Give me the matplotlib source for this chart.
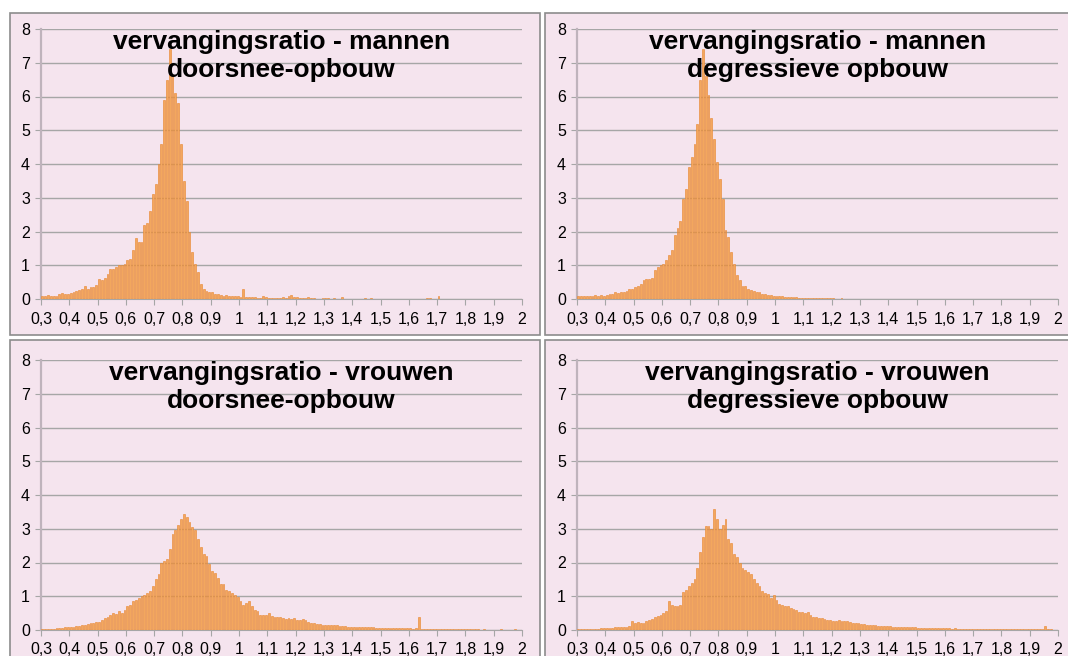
import numpy as np
import matplotlib
matplotlib.use("Agg")
import matplotlib.pyplot as plt
from matplotlib.patches import Rectangle

# bins of 0.01 from 0.30 up to 2.00 (left edges)
bin_left = np.round(np.arange(0.30, 2.00, 0.01), 2)

# frequency (%) per bin
mannen_doorsnee = [
    0.08, 0.10, 0.12, 0.10, 0.10, 0.10, 0.15, 0.18, 0.15, 0.15,
    0.18, 0.20, 0.25, 0.28, 0.30, 0.40, 0.30, 0.35, 0.35, 0.42,
    0.58, 0.55, 0.62, 0.75, 0.90, 0.88, 0.95, 1.00, 1.02, 1.05,
    1.15, 1.20, 1.45, 1.80, 1.70, 1.70, 2.20, 2.25, 2.60, 3.10,
    3.40, 4.00, 4.60, 5.90, 6.50, 7.40, 6.60, 6.10, 5.80, 4.60,
    3.50, 2.90, 2.00, 1.40, 1.05, 0.80, 0.45, 0.30, 0.25, 0.20,
    0.20, 0.15, 0.15, 0.12, 0.10, 0.12, 0.10, 0.08, 0.10, 0.08,
    0.05, 0.30, 0.05, 0.06, 0.05, 0.05, 0.04, 0.04, 0.10, 0.05,
    0.03, 0.04, 0.03, 0.04, 0.03, 0.05, 0.03, 0.08, 0.12, 0.06,
    0.05, 0.02, 0.02, 0.03, 0.05, 0.03, 0.02, 0.01, 0.01, 0.02,
    0.03, 0.04, 0.01, 0.02, 0.01, 0.01, 0.05, 0.01, 0.00, 0.01,
    0.01, 0.01, 0.00, 0.01, 0.02, 0.00, 0.02, 0.01, 0.00, 0.01,
    0.00, 0.01, 0.00, 0.00, 0.00, 0.00, 0.00, 0.01, 0.00, 0.00,
    0.01, 0.00, 0.00, 0.00, 0.00, 0.00, 0.02, 0.02, 0.00, 0.00,
    0.10, 0.00, 0.00, 0.00, 0.00, 0.00, 0.00, 0.00, 0.00, 0.00,
    0.00, 0.00, 0.00, 0.00, 0.00, 0.00, 0.00, 0.00, 0.00, 0.00,
    0.00, 0.00, 0.00, 0.00, 0.00, 0.00, 0.00, 0.00, 0.00, 0.00,
]
mannen_degressief = [
    0.08, 0.08, 0.10, 0.10, 0.08, 0.10, 0.12, 0.10, 0.12, 0.10,
    0.12, 0.15, 0.15, 0.20, 0.18, 0.20, 0.22, 0.25, 0.30, 0.30,
    0.35, 0.40, 0.45, 0.55, 0.58, 0.60, 0.62, 0.85, 0.95, 1.00,
    1.05, 1.15, 1.30, 1.45, 1.90, 2.10, 2.30, 2.95, 3.25, 3.90,
    4.20, 4.60, 5.20, 6.50, 7.40, 6.60, 6.05, 5.35, 4.75, 4.05,
    3.55, 2.95, 2.05, 1.85, 1.40, 1.05, 0.70, 0.55, 0.40, 0.38,
    0.30, 0.28, 0.25, 0.20, 0.20, 0.15, 0.15, 0.12, 0.12, 0.10,
    0.10, 0.08, 0.08, 0.07, 0.06, 0.06, 0.05, 0.05, 0.04, 0.04,
    0.04, 0.03, 0.03, 0.03, 0.03, 0.02, 0.02, 0.02, 0.02, 0.02,
    0.02, 0.01, 0.01, 0.02, 0.01, 0.01, 0.01, 0.01, 0.01, 0.01,
    0.01, 0.01, 0.00, 0.01, 0.00, 0.01, 0.00, 0.00, 0.00, 0.00,
    0.00, 0.00, 0.00, 0.00, 0.00, 0.00, 0.00, 0.00, 0.00, 0.00,
    0.00, 0.00, 0.00, 0.00, 0.00, 0.00, 0.00, 0.00, 0.00, 0.00,
    0.00, 0.00, 0.00, 0.00, 0.00, 0.00, 0.00, 0.00, 0.00, 0.00,
    0.00, 0.00, 0.00, 0.00, 0.00, 0.00, 0.00, 0.00, 0.00, 0.00,
    0.00, 0.00, 0.00, 0.00, 0.00, 0.00, 0.00, 0.00, 0.00, 0.00,
    0.00, 0.00, 0.00, 0.00, 0.00, 0.00, 0.00, 0.00, 0.00, 0.00,
]
vrouwen_doorsnee = [
    0.02, 0.02, 0.03, 0.03, 0.04, 0.05, 0.05, 0.06, 0.08, 0.08,
    0.10, 0.10, 0.12, 0.13, 0.15, 0.16, 0.18, 0.20, 0.22, 0.25,
    0.25, 0.30, 0.35, 0.38, 0.45, 0.50, 0.48, 0.55, 0.50, 0.60,
    0.70, 0.75, 0.85, 0.88, 0.95, 1.00, 1.05, 1.10, 1.15, 1.30,
    1.50, 1.65, 2.00, 2.05, 2.10, 2.40, 2.85, 2.95, 3.10, 3.30,
    3.45, 3.35, 3.20, 3.05, 2.95, 2.70, 2.45, 2.25, 2.20, 1.95,
    1.75, 1.70, 1.55, 1.35, 1.35, 1.20, 1.15, 1.10, 1.05, 0.98,
    0.85, 0.75, 0.80, 0.85, 0.70, 0.60, 0.55, 0.45, 0.45, 0.45,
    0.50, 0.42, 0.40, 0.40, 0.38, 0.35, 0.32, 0.35, 0.33, 0.35,
    0.30, 0.30, 0.32, 0.30, 0.25, 0.22, 0.20, 0.17, 0.18, 0.16,
    0.15, 0.15, 0.15, 0.14, 0.14, 0.13, 0.13, 0.12, 0.10, 0.10,
    0.10, 0.10, 0.10, 0.09, 0.10, 0.08, 0.08, 0.08, 0.07, 0.07,
    0.07, 0.06, 0.07, 0.06, 0.05, 0.06, 0.05, 0.05, 0.05, 0.05,
    0.05, 0.04, 0.05, 0.40, 0.04, 0.04, 0.04, 0.03, 0.04, 0.03,
    0.03, 0.03, 0.03, 0.02, 0.03, 0.02, 0.02, 0.02, 0.02, 0.02,
    0.02, 0.02, 0.02, 0.02, 0.02, 0.01, 0.02, 0.01, 0.01, 0.01,
    0.01, 0.01, 0.02, 0.01, 0.01, 0.01, 0.01, 0.02, 0.01, 0.01,
]
vrouwen_degressief = [
    0.02, 0.02, 0.03, 0.02, 0.03, 0.03, 0.04, 0.04, 0.05, 0.05,
    0.06, 0.07, 0.07, 0.08, 0.08, 0.08, 0.08, 0.10, 0.13, 0.27,
    0.22, 0.25, 0.20, 0.22, 0.28, 0.31, 0.34, 0.38, 0.41, 0.45,
    0.49, 0.57, 0.86, 0.73, 0.72, 0.72, 0.75, 1.13, 1.18, 1.30,
    1.40, 1.52, 1.83, 2.30, 2.77, 3.07, 3.07, 3.00, 3.60, 3.30,
    3.00, 3.10, 3.30, 2.70, 2.58, 2.25, 2.16, 2.00, 1.85, 1.78,
    1.72, 1.67, 1.50, 1.40, 1.30, 1.15, 1.10, 1.08, 0.95, 1.05,
    0.88, 0.78, 0.75, 0.72, 0.70, 0.66, 0.62, 0.58, 0.52, 0.52,
    0.50, 0.54, 0.45, 0.40, 0.38, 0.37, 0.35, 0.33, 0.31, 0.30,
    0.27, 0.28, 0.29, 0.28, 0.26, 0.27, 0.24, 0.22, 0.20, 0.20,
    0.18, 0.17, 0.16, 0.15, 0.15, 0.14, 0.13, 0.13, 0.12, 0.12,
    0.11, 0.10, 0.10, 0.10, 0.09, 0.09, 0.09, 0.08, 0.08, 0.08,
    0.07, 0.07, 0.07, 0.06, 0.06, 0.06, 0.06, 0.05, 0.05, 0.05,
    0.05, 0.05, 0.04, 0.05, 0.04, 0.04, 0.04, 0.04, 0.03, 0.04,
    0.03, 0.04, 0.03, 0.03, 0.03, 0.03, 0.03, 0.02, 0.03, 0.02,
    0.02, 0.02, 0.03, 0.02, 0.02, 0.02, 0.02, 0.02, 0.02, 0.02,
    0.02, 0.02, 0.02, 0.02, 0.02, 0.12, 0.02, 0.02, 0.01, 0.01,
]

titles = [
    "vervangingsratio - mannen\ndoorsnee-opbouw",
    "vervangingsratio - mannen\ndegressieve opbouw",
    "vervangingsratio - vrouwen\ndoorsnee-opbouw",
    "vervangingsratio - vrouwen\ndegressieve opbouw",
]
xtick_values = [0.3, 0.4, 0.5, 0.6, 0.7, 0.8, 0.9, 1.0, 1.1, 1.2,
                1.3, 1.4, 1.5, 1.6, 1.7, 1.8, 1.9, 2.0]
xtick_labels = ["0,3", "0,4", "0,5", "0,6", "0,7", "0,8", "0,9", "1", "1,1", "1,2",
                "1,3", "1,4", "1,5", "1,6", "1,7", "1,8", "1,9", "2"]
ytick_values = [0, 1, 2, 3, 4, 5, 6, 7, 8]

BG = "#F5E4EE"
BAR = "#F3A75E"
BAR_EDGE = "#E8842C"
GRID = "#A6A6A6"

W, H = 1068, 656
fig = plt.figure(figsize=(W / 100, H / 100), dpi=100)
fig.patch.set_facecolor("white")
plt.rcParams['font.family'] = ['Liberation Sans', 'DejaVu Sans']

# chart areas (pixel boxes: x0, y0_top, x1, y1_bottom) and plot areas
chart_boxes = [(10, 13, 540, 335), (545, 13, 1075, 335),
               (10, 340, 540, 670), (545, 340, 1075, 670)]
plot_boxes = [(41, 29, 522, 299), (577, 29, 1058, 299),
              (41, 360, 522, 630), (577, 360, 1058, 630)]
series = [mannen_doorsnee, mannen_degressief, vrouwen_doorsnee, vrouwen_degressief]

for cbox, pbox, vals, title in zip(chart_boxes, plot_boxes, series, titles):
    x0, y0, x1, y1 = cbox
    fig.patches.append(Rectangle((x0 / W, 1 - y1 / H), (x1 - x0) / W, (y1 - y0) / H,
                                 transform=fig.transFigure, facecolor=BG,
                                 edgecolor="#8C8C8C", linewidth=1.2, zorder=-5))
    px0, py0, px1, py1 = pbox
    ax = fig.add_axes([px0 / W, 1 - py1 / H, (px1 - px0) / W, (py1 - py0) / H])
    ax.set_facecolor("none")
    ax.bar(bin_left + 0.005, vals, width=0.0065, color=BAR, edgecolor=BAR_EDGE,
           linewidth=0.4, zorder=3)
    ax.set_xlim(0.3, 2.0)
    ax.set_ylim(0, 8)
    ax.set_xticks(xtick_values)
    ax.set_xticklabels(xtick_labels, fontsize=11.5)
    ax.set_yticks(ytick_values)
    ax.set_yticklabels([str(v) for v in ytick_values], fontsize=11.5)
    ax.grid(axis="y", color=GRID, linewidth=1.0, zorder=1)
    ax.set_axisbelow(True)
    for s in ["top", "right"]:
        ax.spines[s].set_visible(False)
    ax.spines["left"].set_color("#BFB3BC")
    ax.spines["left"].set_linewidth(1.6)
    ax.spines["bottom"].set_color(GRID)
    ax.tick_params(axis="x", direction="out", length=4, color=GRID, pad=5)
    ax.tick_params(axis="y", direction="out", length=4, color=GRID, pad=4)
    ax.text(0.5, 0.995, title, transform=ax.transAxes, ha="center", va="top",
            fontsize=19, fontweight="bold", linespacing=1.2, zorder=5)

fig.savefig("out.png", dpi=100)
